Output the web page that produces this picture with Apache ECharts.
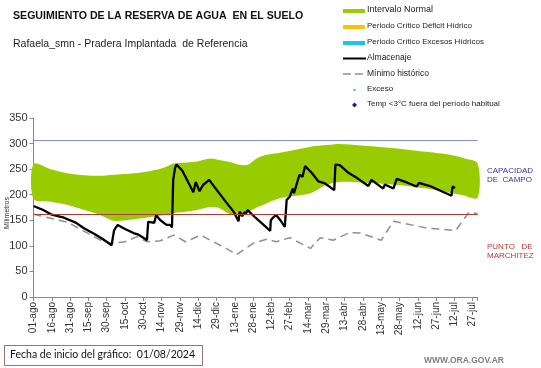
<!DOCTYPE html>
<html><head><meta charset="utf-8">
<script src="https://cdn.jsdelivr.net/npm/echarts@6/dist/echarts.min.js"></script>
<style>html,body{margin:0;padding:0;background:#fff}#c{width:541px;height:368px}</style>
</head><body><div id="c"></div>
<script>
// x = days since 01/08/2024
var tickLabels = ['01-ago','16-ago','31-ago','15-sep','30-sep','15-oct','30-oct','14-nov','29-nov','14-dic','29-dic','13-ene','28-ene','12-feb','27-feb','14-mar','29-mar','13-abr','28-abr','13-may','28-may','12-jun','27-jun','12-jul','27-jul'];

var bandDays  = [0,14,28,42,55,66,82,95,106,115,126,134,145,152,161,168,175,183,191,202,215,227,240,251,268,295,322,339,352,364];
var bandUpper = [260,250,242,238,237,239,242,246,252,261,263,265,271,268,264,259,258,271,278,282,288,294,297,299,296,291,284,279,272,261];
var bandLower = [192,186,180,170,160,149,152,156,160,164,167,170,176,174,162,160,165,175,183,193,198,203,219,225,224,220,212,205,199,194];

var almDays = [0,8,15,25,35,41,50,55,60,64,65,66,67,69,75,82,86,90,93,94,97,99,100.5,104,109,112,113.5,114.5,116,117,122,131,133,136,139,144,150,158,164,168,169,171,173,174,175.5,182,190,194,194.5,197,199,203,206,207.5,210,212.5,213.5,218,219.5,220.5,222.6,228,233.6,239,246.5,247.5,251,258,265,274.5,277,286.6,288,295,297.7,306,314,316,325,342.6,343.4,345.5];
var almVals = [178,170,161,155,145,135,123,116,108,101,102,130,134,141,133,125,122,116,111,147,146,145,160,150,141,141,136,229,252,259,247,205,225,207,219,229,210,185,167,148,167,158,166,162,170,155,138,129,150,157,160,148,137,190,196,212,203,239,242,235,256,243,226,222,209,259,258,243,233,217,229,212,220,212,231,224,216,223,217,198,216,213];

var minDays = [0,28,55,63,75,85,93,104,115,124.5,137,147.5,155.7,166.6,180,191,194.5,199,210,227,235,245.7,259,268,285,295,322,346,357,364];
var minVals = [162,146,111,105,108,118,108,110,121,108,121,108,98,83,105,113,111,108,116,95,116,111,126,125,111,148,135,130,166,163];

var capCampo = 307;
var puntoMarchitez = 162;

function pairs(xs, ys){ return xs.map(function(x,i){ return [x, ys[i]]; }); }

var chart = echarts.init(document.getElementById('c'), null, {renderer:'canvas'});
var F = 'Liberation Sans, Arial, sans-serif';
var legY = [11,27,43,58.5,74,90,105];
var legTxtX = 367;
function legText(t, y, fs){ return {type:'text', left:legTxtX, top:y-(fs||8)/2-1, style:{text:t, font:(fs||8)+'px '+F, fill:'#222'}}; }

chart.setOption({
  animation:false,
  grid:{left:33.5, right:63.4, top:118, bottom:71, containLabel:false},
  xAxis:{type:'value', min:0, max:364, interval:15,
    axisLine:{show:true, lineStyle:{color:'#888', width:1}},
    axisTick:{show:true, length:4, lineStyle:{color:'#888'}},
    splitLine:{show:false},
    axisLabel:{rotate:90, fontSize:10, color:'#333', fontFamily:F, margin:5,
      formatter:function(v){ var i = v/15; return (Math.abs(i-Math.round(i))<1e-6 && tickLabels[Math.round(i)]) ? tickLabels[Math.round(i)] : ''; }}
  },
  yAxis:{type:'value', min:0, max:350, interval:50,
    axisLine:{show:true, lineStyle:{color:'#888', width:1}},
    axisTick:{show:true, length:4, lineStyle:{color:'#888'}},
    splitLine:{show:false},
    axisLabel:{fontSize:11, color:'#333', fontFamily:F, margin:6}
  },
  series:[
    {name:'Intervalo Normal', type:'custom', silent:true, z:1,
      data:[0],
      renderItem:function(params, api){
        var pts = [];
        for (var i=0;i<bandDays.length;i++) pts.push(api.coord([bandDays[i], bandUpper[i]]));
        for (var j=bandDays.length-1;j>=0;j--) pts.push(api.coord([bandDays[j], bandLower[j]]));
        return {type:'polygon', shape:{points:pts, smooth:0.3}, style:{fill:'#99cc00', stroke:null}};
      }},
    {name:'lines', type:'line', data:[], symbol:'none', z:2,
      markLine:{silent:true, symbol:'none', label:{show:false},
        data:[{yAxis:capCampo, lineStyle:{color:'#8090cc', width:1, type:'solid'}},
              {yAxis:puntoMarchitez, lineStyle:{color:'#b03a3a', width:1, type:'solid'}}]}},
    {name:'Mínimo histórico', type:'line', data:pairs(minDays, minVals), symbol:'none', z:3,
      lineStyle:{color:'#909090', width:1.5, type:[8,5]}},
    {name:'Almacenaje', type:'line', data:pairs(almDays, almVals), symbol:'none', z:4,
      lineStyle:{color:'#000', width:2.3}}
  ],
  graphic:[
    {type:'text', left:13, top:11, style:{text:'SEGUIMIENTO DE LA RESERVA DE AGUA  EN EL SUELO', font:'bold 10.6px '+F, fill:'#111'}},
    {type:'text', left:13, top:39, style:{text:'Rafaela_smn - Pradera Implantada  de Referencia', font:'10.5px '+F, fill:'#222'}},
    {type:'text', x:7, y:213, rotation:Math.PI/2, style:{text:'Milimetros', font:'7px '+F, fill:'#333', align:'center', verticalAlign:'middle'}},
    {type:'rect', shape:{x:343, y:legY[0]-2, width:22, height:4}, style:{fill:'#99cc00'}},
    legText('Intervalo Normal', legY[0], 9),
    {type:'rect', shape:{x:343, y:legY[1]-2, width:22, height:4}, style:{fill:'#ffc000'}},
    legText('Periodo Crítico Déficit Hídrico', legY[1]),
    {type:'rect', shape:{x:343, y:legY[2]-2, width:22, height:4}, style:{fill:'#22c0f0'}},
    legText('Periodo Crítico Excesos Hídricos', legY[2]),
    {type:'line', shape:{x1:343, y1:legY[3], x2:366, y2:legY[3]}, style:{stroke:'#000', lineWidth:2}},
    legText('Almacenaje', legY[3], 8.5),
    {type:'line', shape:{x1:343, y1:legY[4], x2:364, y2:legY[4]}, style:{stroke:'#909090', lineWidth:1.5, lineDash:[8,4]}},
    legText('Mínimo histórico', legY[4], 8.5),
    {type:'circle', shape:{cx:354.5, cy:legY[5], r:1.3}, style:{fill:'#40c8d8'}},
    legText('Exceso', legY[5]),
    {type:'polygon', shape:{points:[[354.5,legY[6]-2.5],[357,legY[6]],[354.5,legY[6]+2.5],[352,legY[6]]]}, style:{fill:'#1a1aa0'}},
    legText('Temp <3°C fuera del período habitual', legY[6]),
    {type:'text', left:487, top:166, style:{text:'CAPACIDAD\nDE  CAMPO', font:'8px '+F, fill:'#3535a5', lineHeight:9}},
    {type:'text', left:487, top:242, style:{text:'PUNTO   DE\nMARCHITEZ', font:'8px '+F, fill:'#c03535', lineHeight:9}},
    {type:'rect', shape:{x:4.5, y:345.5, width:198, height:20}, style:{fill:'#fff', stroke:'#9a7070', lineWidth:1}},
    {type:'text', left:10, top:349, style:{text:'Fecha de inicio del gráfico:  01/08/2024', font:'10.5px Lato, sans-serif', fill:'#111'}},
    {type:'text', left:424, top:356, style:{text:'WWW.ORA.GOV.AR', font:'bold 8.5px '+F, fill:'#808080'}}
  ]
});
</script></body></html>
